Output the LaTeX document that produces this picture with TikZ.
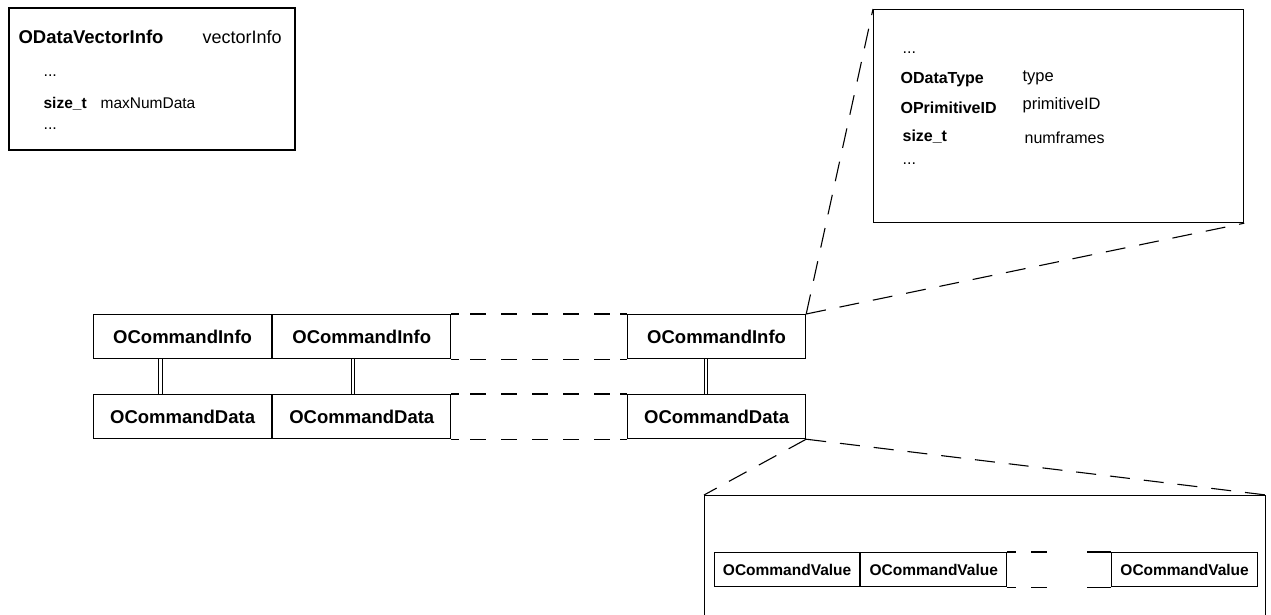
\documentclass[tikz,border=0pt]{standalone}
\usepackage{fontspec}
\setmainfont{Liberation Sans}
\begin{document}
\begin{tikzpicture}[x=1pt,y=-1pt,line width=1.2pt,
    cell/.style={draw,anchor=north west,inner sep=0pt,minimum width=178pt,minimum height=44pt,
      font=\bfseries\fontsize{18.5}{20}\selectfont},
    valcell/.style={draw,anchor=north west,inner sep=0pt,minimum width=146pt,minimum height=34pt,
      font=\bfseries\fontsize{15.5}{17}\selectfont},
    zoombox/.style={draw,anchor=north west,inner sep=0pt},
    txt/.style={anchor=base west,inner sep=0pt,font=\fontsize{16}{18}\selectfont},
    btxt/.style={txt,font=\bfseries\fontsize{16}{18}\selectfont},
    gapline/.style={dash pattern=on 16pt off 15pt,dash phase=20pt},
    zoomline/.style={line width=1.1pt,dash pattern=on 20pt off 14pt},
    dbl/.style={double,double distance=2.5pt,line width=1pt}]
  \useasboundingbox (0,0) rectangle (1271,614);
  \clip (0,0) rectangle (1271,614);
  % vector info
  \node[zoombox,line width=1.5pt,minimum width=286pt,minimum height=142pt] (vecbox) at (8,7) {};
  \node[btxt,font=\bfseries\fontsize{18.5}{20}\selectfont] (vechead) at (18,43) {ODataVectorInfo};
  \node[txt,font=\fontsize{18}{20}\selectfont] (vecname) at (202,43) {vectorInfo};
  \node[txt] (vecdotsa) at (43,76) {...};
  \node[btxt,font=\bfseries\fontsize{15.5}{17}\selectfont] (vecsize) at (43,108) {size\_t};
  \node[txt,font=\fontsize{15.5}{17}\selectfont] (vecmax) at (100,108) {maxNumData};
  \node[txt] (vecdotsb) at (43,129) {...};
  % command info / data
  \node[cell] (i1) at (93,314) {OCommandInfo};
  \node[cell] (i2) at (i1.north east) {OCommandInfo};
  \node[cell] (i3) at (627,314) {OCommandInfo};
  \node[cell] (d1) at (93,394) {OCommandData};
  \node[cell] (d2) at (d1.north east) {OCommandData};
  \node[cell] (d3) at (627,394) {OCommandData};
  \draw[dbl] ([xshift=-22pt]i1.south) -- ([xshift=-22pt]d1.north);
  \draw[dbl] ([xshift=-9pt]i2.south) -- ([xshift=-9pt]d2.north);
  \draw[dbl] ([xshift=-10.5pt]i3.south) -- ([xshift=-10.5pt]d3.north);
  \foreach \a/\b in {i2/i3,d2/d3}{
    \draw (\a.north east) -- ([xshift=8pt]\a.north east);
    \draw (\a.south east) -- ([xshift=8pt]\a.south east);
    \draw (\b.north west) -- ([xshift=-7pt]\b.north west);
    \draw (\b.south west) -- ([xshift=-7pt]\b.south west);
    \draw[gapline] ([xshift=8pt]\a.north east) -- ([xshift=-7pt]\b.north west);
    \draw[gapline] ([xshift=8pt]\a.south east) -- ([xshift=-7pt]\b.south west);
  }
  % info zoom
  \node[zoombox,minimum width=370pt,minimum height=213pt] (infobox) at (873,9) {};
  \node[txt] (infdotsa) at (902,53) {...};
  \node[btxt] (inftype) at (900,83) {ODataType};
  \node[txt,font=\fontsize{16.5}{18}\selectfont] (infname) at (1022,81) {type};
  \node[btxt] (infprim) at (900,113) {OPrimitiveID};
  \node[txt,font=\fontsize{16.5}{18}\selectfont] (infprimname) at (1022,109) {primitiveID};
  \node[btxt] (infsize) at (902,141) {size\_t};
  \node[txt] (infframes) at (1024,143) {numframes};
  \node[txt] (infdotsb) at (902,164) {...};
  \draw[zoomline] (i3.north east) -- (infobox.north west);
  \draw[zoomline] (i3.north east) -- (infobox.south east);
  % data zoom
  \node[zoombox,minimum width=561pt,minimum height=200pt] (databox) at (704,495) {};
  \node[valcell,minimum width=145pt] (v1) at (714,552) {OCommandValue};
  \node[valcell] (v2) at (v1.north east) {OCommandValue};
  \node[valcell] (v3) at (1111,552) {OCommandValue};
  \draw (v2.north east) -- ([xshift=9pt]v2.north east);
  \draw (v2.south east) -- ([xshift=9pt]v2.south east);
  \draw (v3.north west) -- ([xshift=-14pt]v3.north west);
  \draw (v3.south west) -- ([xshift=-14pt]v3.south west);
  \draw[dash pattern=on 16pt off 15pt on 16pt off 40pt,dash phase=16pt] ([xshift=9pt]v2.north east) -- ([xshift=-14pt]v3.north west);
  \draw[dash pattern=on 16pt off 15pt on 16pt off 40pt,dash phase=16pt] ([xshift=9pt]v2.south east) -- ([xshift=-14pt]v3.south west);
  \draw[zoomline] (d3.south east) -- (databox.north west);
  \draw[zoomline] (d3.south east) -- (databox.north east);
\end{tikzpicture}
\end{document}
